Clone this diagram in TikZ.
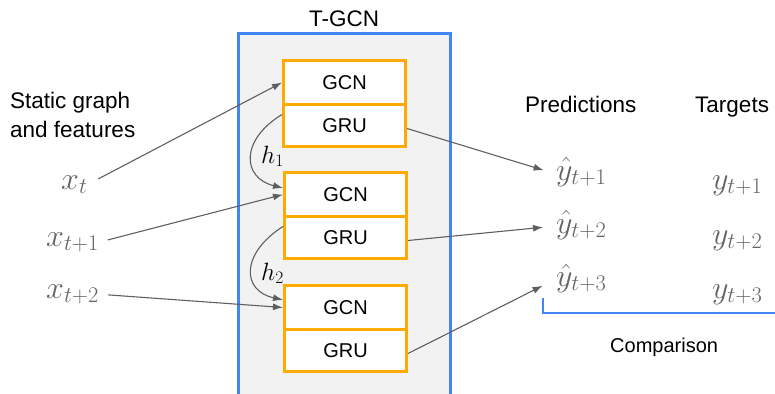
\RequirePackage{fix-cm}
\documentclass[tikz,border=0pt]{standalone}
\usepackage{fontspec}
\setmainfont{Liberation Sans}
\usetikzlibrary{arrows.meta}
\definecolor{tblue}{RGB}{66,133,244}
\definecolor{torange}{RGB}{255,170,0}
\definecolor{tgray}{RGB}{95,95,95}
\definecolor{mgray}{RGB}{100,100,100}
\definecolor{bgfill}{RGB}{242,242,242}
\begin{document}
\begin{tikzpicture}[x=1pt,y=-1pt,
  cell/.style={draw=torange, line width=3pt, fill=white, minimum width=122pt,
    inner sep=0pt, anchor=north west, font=\fontsize{20}{22}\selectfont},
  gcncell/.style={cell, minimum height=44pt},
  grucell/.style={cell, minimum height=42pt},
  lbl/.style={font=\fontsize{22.5}{26}\selectfont, inner sep=0pt, anchor=base west},
  mth/.style={text=mgray, font=\fontsize{32}{36}\selectfont, inner sep=0pt, anchor=base west},
  hlbl/.style={font=\fontsize{25}{28}\selectfont, inner sep=0pt, anchor=base west},
  conn/.style={draw=tgray, line width=1.1pt, -{Latex[length=10pt,width=7pt]}},
]
\useasboundingbox (0,0) rectangle (775,393);
\begin{scope}
\clip (0,0) rectangle (775,393);
% T-GCN container
\fill[bgfill] (238,34) rectangle (450,400);
\draw[tblue, line width=3pt] (238,400) -- (238,34) -- (450,34) -- (450,400);
\node[font=\fontsize{22.5}{26}\selectfont, anchor=base, inner sep=0pt] (title) at (344,27) {T-GCN};

% cells
\node[gcncell] (gcn1) at (282,59) {GCN};
\node[grucell] (gru1) at (282,103) {GRU};
\node[gcncell] (gcn2) at (283,171) {GCN};
\node[grucell] (gru2) at (283,215) {GRU};
\node[gcncell] (gcn3) at (283,284) {GCN};
\node[grucell] (gru3) at (283,328) {GRU};

% left labels
\node[lbl] (static1) at (10,108) {Static graph};
\node[lbl] (static2) at (10,137) {and features};
\node[mth] (xt) at (61,189) {$x_t$};
\node[mth] (xt1) at (46,246) {$x_{t+1}$};
\node[mth] (xt2) at (46,298) {$x_{t+2}$};

% hidden labels
\node[hlbl] (h1) at (261,163) {$h_1$};
\node[hlbl] (h2) at (261,280) {$h_2$};

% right labels
\node[lbl] (pred) at (525,112) {Predictions};
\node[lbl] (targ) at (695,112) {Targets};
\node[mth] (yh1) at (556,180) {$\hat y_{t+1}$};
\node[mth] (yh2) at (556,233) {$\hat y_{t+2}$};
\node[mth] (yh3) at (556,286) {$\hat y_{t+3}$};
\node[mth] (y1) at (712,189) {$y_{t+1}$};
\node[mth] (y2) at (712,244) {$y_{t+2}$};
\node[mth] (y3) at (712,298) {$y_{t+3}$};
\node[font=\fontsize{20}{24}\selectfont, inner sep=0pt, anchor=base west] (comp) at (610,352) {Comparison};

% input arrows
\draw[conn, shorten <=12pt] (xt.east) -- (gcn1.west);
\draw[conn, shorten <=9pt] (xt1.east) -- (gcn2.west);
\draw[conn, shorten <=9pt] (xt2.east) -- (gcn3.west);

% output arrows
\draw[conn, shorten >=13pt] ([yshift=-3pt]gru1.east) -- ([yshift=-2pt]yh1.west);
\draw[conn, shorten >=13pt] ([yshift=-3pt]gru2.east) -- ([yshift=-1pt]yh2.west);
\draw[conn, shorten >=15pt] ([yshift=-3pt]gru3.east) -- ([yshift=-1pt]yh3.west);

% recurrent arrows
\draw[conn] (gru1.170) .. controls (240,140) and (242,178) .. (gcn2.174);
\draw[conn] (gru2.170) .. controls (240,254) and (242,291) .. (gcn3.173);

% comparison bracket
\coordinate (b1) at (543,298);
\coordinate (b2) at (543,313);
\coordinate (b3) at (776,313);
\draw[tblue, line width=2.5pt] (b1) -- (b2) -- (b3);
\end{scope}
\end{tikzpicture}
\end{document}
